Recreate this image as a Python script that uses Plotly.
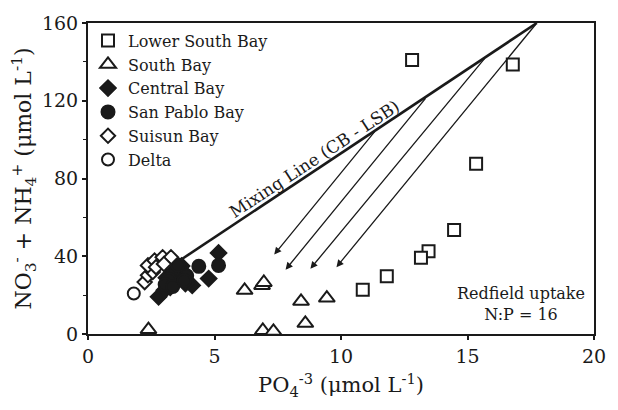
import plotly.graph_objects as go

# ---- data ----
lsb_x = [12.81, 16.79, 15.34, 14.47, 13.46, 13.16, 11.81, 10.86]
lsb_y = [141.0, 138.7, 87.6, 53.5, 42.6, 39.2, 29.7, 22.8]

sb_x = [2.39, 6.19, 6.88, 6.95, 6.91, 7.33, 8.42, 8.59, 9.44]
sb_y = [2.3, 22.5, 25.0, 26.5, 1.8, 1.4, 16.8, 5.5, 18.5]

cb_x = [2.79, 3.02, 4.12, 4.77, 5.16, 3.3, 3.6, 3.85, 3.45, 3.1, 3.7, 3.25]
cb_y = [19.1, 22.5, 25.0, 28.5, 41.7, 27.0, 30.0, 26.0, 33.0, 29.0, 35.0, 24.0]

sp_x = [4.38, 5.16, 3.4, 3.7, 3.9, 3.2, 3.55, 3.05, 3.35, 3.8]
sp_y = [34.8, 35.3, 31.0, 33.0, 30.0, 28.0, 35.5, 25.5, 24.5, 27.5]

su_x = [2.24, 2.37, 2.56, 2.37, 2.63, 2.69, 2.95, 3.28, 3.0]
su_y = [26.7, 30.2, 31.9, 35.3, 37.8, 34.4, 39.5, 39.5, 36.0]

delta_x = [1.81]
delta_y = [20.8]

mix_x = [3.67, 17.74]
mix_y = [38.2, 160.0]

arrow_start_x = [11.38, 13.39, 15.73, 17.74]
arrow_start_y = [104.9, 122.0, 142.6, 160.0]
arrow_end_x = [7.36, 7.81, 8.79, 9.82]
arrow_end_y = [40.9, 33.1, 33.6, 34.4]

x_ticks = [0, 5, 10, 15, 20]
y_ticks = [0, 40, 80, 120, 160]

FONT = "DejaVu Serif"
BLACK = "#1a1a1a"

fig = go.Figure()

# mixing line (no legend)
fig.add_trace(go.Scatter(x=mix_x, y=mix_y, mode="lines",
                         line=dict(color=BLACK, width=2.6),
                         showlegend=False, hoverinfo="skip"))

def add_series(name, xs, ys, symbol, fill, size):
    fig.add_trace(go.Scatter(
        x=xs, y=ys, mode="markers", name=name,
        marker=dict(symbol=symbol, size=size, color=fill,
                    line=dict(color=BLACK, width=2))))

add_series("Lower South Bay", lsb_x, lsb_y, "square", "white", 12)
add_series("South Bay", sb_x, sb_y, "triangle-up", "white", 14)
add_series("Central Bay", cb_x, cb_y, "diamond", BLACK, 12)
add_series("San Pablo Bay", sp_x, sp_y, "circle", BLACK, 13)
add_series("Suisun Bay", su_x, su_y, "diamond", "white", 11)
add_series("Delta", delta_x, delta_y, "circle", "white", 12)

annotations = []
for sx, sy, ex, ey in zip(arrow_start_x, arrow_start_y, arrow_end_x, arrow_end_y):
    annotations.append(dict(x=ex, y=ey, ax=sx, ay=sy, xref="x", yref="y",
                            axref="x", ayref="y", text="", showarrow=True,
                            arrowhead=2, arrowsize=1.1, arrowwidth=1.3,
                            arrowcolor=BLACK))

annotations.append(dict(x=8.95, y=90.0, xref="x", yref="y",
                        text="Mixing Line (CB - LSB)", showarrow=False,
                        textangle=-33.3,
                        font=dict(family=FONT, size=17, color=BLACK)))
annotations.append(dict(x=19.72, y=15.3, xref="x", yref="y",
                        text="Redfield uptake<br>N:P = 16", showarrow=False,
                        xanchor="right", yanchor="middle", align="center",
                        font=dict(family=FONT, size=16, color=BLACK)))

fig.update_layout(
    width=618, height=410,
    margin=dict(l=87.5, r=16.5, t=21, b=76),
    paper_bgcolor="white", plot_bgcolor="white",
    font=dict(family=FONT, size=16, color=BLACK),
    showlegend=True,
    legend=dict(x=0.0, y=0.998, xanchor="left", yanchor="top",
                bgcolor="rgba(0,0,0,0)",
                font=dict(family=FONT, size=16, color=BLACK)),
    annotations=annotations,
)

fig.update_xaxes(range=[0, 20], tickvals=x_ticks, ticktext=[str(v) for v in x_ticks],
                 showgrid=False, zeroline=False,
                 showline=True, linewidth=2, linecolor=BLACK, mirror=True,
                 ticks="outside", ticklen=4, tickwidth=1.5, tickcolor=BLACK,
                 tickfont=dict(family=FONT, size=19, color=BLACK),
                 title=dict(text="PO<sub>4</sub><sup>-3</sup> (μmol L<sup>-1</sup>)",
                            font=dict(family=FONT, size=21, color=BLACK), standoff=12))
fig.update_yaxes(range=[0, 160], tickvals=y_ticks, ticktext=[str(v) for v in y_ticks],
                 showgrid=False, zeroline=False,
                 showline=True, linewidth=2, linecolor=BLACK, mirror=True,
                 ticks="outside", ticklen=4, tickwidth=1.5, tickcolor=BLACK,
                 minor=dict(tickvals=[20, 60, 100, 140], ticks="outside", ticklen=3,
                            tickwidth=1, tickcolor=BLACK),
                 tickfont=dict(family=FONT, size=19, color=BLACK),
                 title=dict(text="NO<sub>3</sub><sup>-</sup> + NH<sub>4</sub><sup>+</sup> (μmol L<sup>-1</sup>)",
                            font=dict(family=FONT, size=22, color=BLACK), standoff=4))

fig.write_html("out.html")
